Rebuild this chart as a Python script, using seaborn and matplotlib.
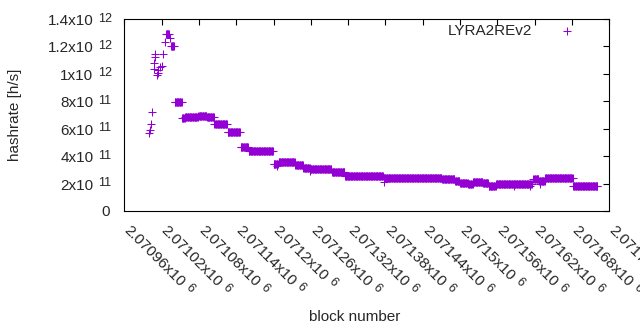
import numpy as np
import pandas as pd
import matplotlib
matplotlib.use("Agg")
import matplotlib.pyplot as plt
from matplotlib.font_manager import FontProperties
import seaborn as sns

# ---- data (hashrate in units of 1e11 h/s) ----
early_block = [2071000, 2071001, 2071003, 2071004, 2071007, 2071007, 2071009, 2071010,
               2071012, 2071014, 2071015, 2071017, 2071020, 2071023, 2071025, 2071033]
early_rate = [5.67, 5.91, 6.35, 7.20, 10.36, 10.77, 11.25, 11.43,
              9.92, 10.09, 10.28, 10.48, 10.60, 11.43, 12.30, 12.60]

seg_start = [2071027, 2071035, 2071041, 2071053, 2071058, 2071079, 2071093, 2071105,
             2071126, 2071147, 2071160, 2071200, 2071208, 2071219, 2071235, 2071248,
             2071259, 2071275, 2071294, 2071315, 2071377, 2071405, 2071471, 2071492,
             2071500, 2071513, 2071521, 2071537, 2071546, 2071558, 2071618, 2071627,
             2071637, 2071682]
seg_end = [2071032, 2071040, 2071052, 2071057, 2071078, 2071092, 2071104, 2071125,
           2071146, 2071159, 2071199, 2071207, 2071218, 2071234, 2071247, 2071258,
           2071274, 2071293, 2071314, 2071376, 2071404, 2071470, 2071491, 2071499,
           2071512, 2071520, 2071536, 2071545, 2071557, 2071615, 2071626, 2071636,
           2071681, 2071721]
seg_rate = [12.93, 12.00, 7.97, 6.76, 6.83, 6.95, 6.83, 6.32,
            5.74, 4.64, 4.35, 3.46, 3.60, 3.55, 3.36, 3.11,
            3.08, 3.04, 2.87, 2.53, 2.38, 2.43, 2.33, 2.21,
            2.06, 1.97, 2.14, 2.02, 1.82, 1.95, 2.33, 2.21,
            2.38, 1.85]

extra_block = [2071206, 2071258, 2071377, 2071587, 2071613, 2071628]
extra_rate = [3.28, 2.95, 2.10, 1.80, 1.80, 1.97]

x_ticks = [2070960, 2071020, 2071080, 2071140, 2071200, 2071260, 2071320,
           2071380, 2071440, 2071500, 2071560, 2071620, 2071680, 2071740]
x_tick_mant = ["2.07096", "2.07102", "2.07108", "2.07114", "2.0712", "2.07126",
               "2.07132", "2.07138", "2.07144", "2.0715", "2.07156", "2.07162",
               "2.07168", "2.07174"]
x_tick_exp = "6"
y_ticks = [0, 2e11, 4e11, 6e11, 8e11, 1e12, 1.2e12, 1.4e12]
y_tick_mant = ["0", "2", "4", "6", "8", "1", "1.2", "1.4"]
y_tick_exp = ["", "11", "11", "11", "11", "12", "12", "12"]

# ---- build table ----
blocks = list(early_block) + list(extra_block)
rates = list(early_rate) + list(extra_rate)
for s, e, r in zip(seg_start, seg_end, seg_rate):
    for b in range(s, e + 1):
        blocks.append(b)
        rates.append(r)
df = pd.DataFrame({"block": blocks, "hashrate": np.array(rates) * 1e11})

# ---- style ----
sns.set_style("white")
plt.rcParams["font.family"] = ["Liberation Sans", "DejaVu Sans"]
FS = 11
FS_EXP = 9
DPI = 100
PT = 72.0 / DPI  # points per pixel

fig = plt.figure(figsize=(6.4, 3.3), dpi=DPI)
ax = fig.add_axes([124.3 / 640, 1 - 211 / 330, (609.3 - 124.3) / 640, (211 - 19) / 330])

color = "#9400d3"
sns.scatterplot(data=df, x="block", y="hashrate", marker="+", s=26, color=color,
                linewidth=0.75, label="LYRA2REv2", ax=ax, zorder=3)

ax.set_xlim(2070960, 2071740)
ax.set_ylim(0, 1.4e12)
ax.set_xticks(x_ticks)
ax.set_xticklabels([])
ax.set_yticks(y_ticks)
ax.set_yticklabels([])

ax.tick_params(direction="in", length=4.5, width=0.8, top=True, right=True,
               colors="black")
for sp in ax.spines.values():
    sp.set_visible(True)
    sp.set_color("black")
    sp.set_linewidth(0.8)
ax.grid(False)
ax.set_xlabel("")
ax.set_ylabel("")

# ---- y tick labels: mantissa x10 + raised exponent ----
for v, m, e in zip(y_ticks, y_tick_mant, y_tick_exp):
    if e == "":
        ax.annotate(m, xy=(0, v), xycoords=("axes fraction", "data"),
                    xytext=(-14 * PT, -5.5 * PT), textcoords="offset points",
                    ha="right", va="baseline", fontsize=FS, annotation_clip=False)
    else:
        ax.annotate(m + "x10", xy=(0, v), xycoords=("axes fraction", "data"),
                    xytext=(-31 * PT, -6 * PT), textcoords="offset points",
                    ha="right", va="baseline", fontsize=FS, annotation_clip=False)
        ax.annotate(e, xy=(0, v), xycoords=("axes fraction", "data"),
                    xytext=(-26.6 * PT, -2.5 * PT), textcoords="offset points",
                    ha="left", va="baseline", fontsize=FS_EXP, annotation_clip=False)

# ---- x tick labels: rotated by -45 with raised exponent ----
renderer = fig.canvas.get_renderer()
fp = FontProperties(family=["Liberation Sans", "DejaVu Sans"], size=FS)
space_w = 4.3
d = np.array([np.sqrt(0.5), -np.sqrt(0.5)])   # text direction (offset coords, y up)
u = np.array([np.sqrt(0.5), np.sqrt(0.5)])    # text "up" direction
for t, m in zip(x_ticks, x_tick_mant):
    base = m + "x10"
    w, h, desc = renderer.get_text_width_height_descent(base, fp, ismath=False)
    a = np.array([-1.0, -20.0])
    ax.annotate(base, xy=(t, 0), xycoords=("data", "axes fraction"),
                xytext=tuple(a * PT), textcoords="offset points",
                ha="left", va="baseline", rotation=-45, rotation_mode="anchor",
                fontsize=FS, annotation_clip=False)
    p = a + (w + space_w) * d + 4.0 * u
    ax.annotate(x_tick_exp, xy=(t, 0), xycoords=("data", "axes fraction"),
                xytext=tuple(p * PT), textcoords="offset points",
                ha="left", va="baseline", rotation=-45, rotation_mode="anchor",
                fontsize=FS_EXP, annotation_clip=False)

fig.text(355 / 640, 1 - 316.7 / 330, "block number", ha="center", va="center", fontsize=FS)
fig.text(15 / 640, 1 - 115 / 330, "hashrate [h/s]", ha="center", va="center",
         rotation=90, fontsize=FS)

leg = ax.legend(loc="upper right", bbox_to_anchor=(0.944, 0.975), frameon=False,
                markerfirst=False, handlelength=2, handletextpad=1.27,
                borderpad=0, borderaxespad=0, fontsize=FS)

fig.savefig("out.png", dpi=DPI)
